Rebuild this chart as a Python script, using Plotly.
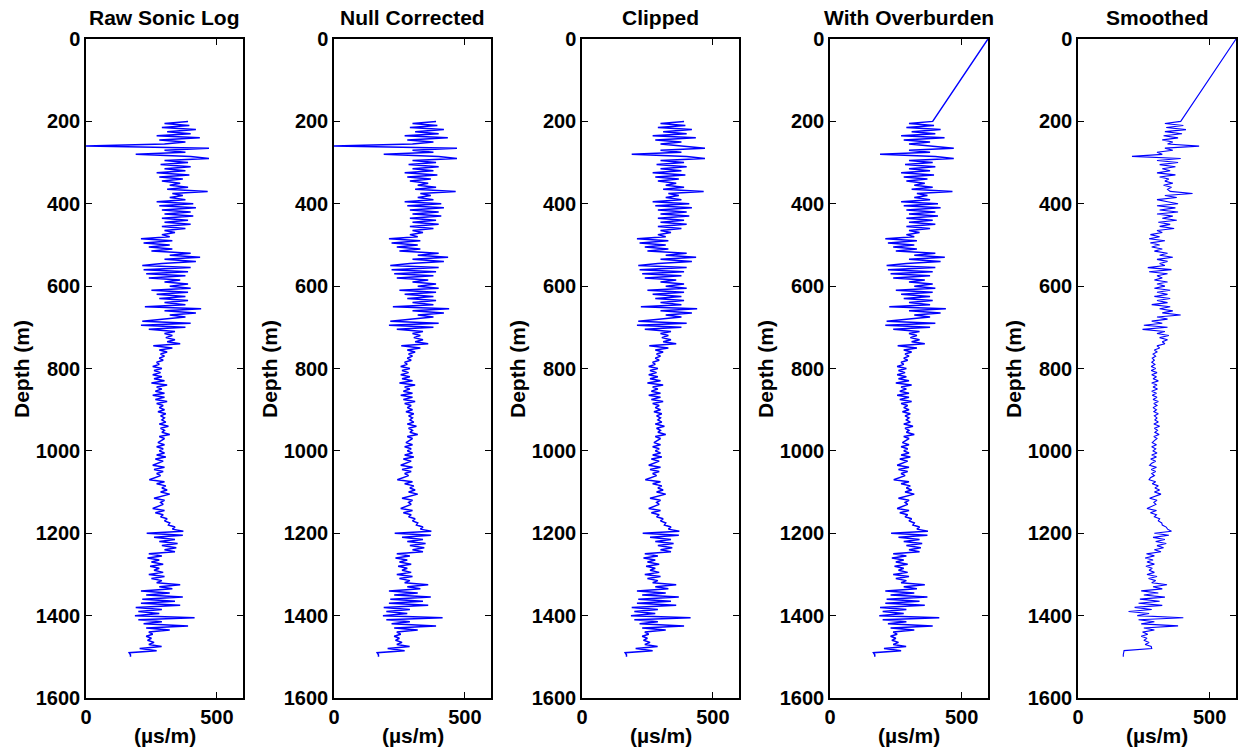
import numpy as np
import plotly.graph_objects as go

# ---------------- data ----------------
panel_titles = ["Raw Sonic Log", "Null Corrected", "Clipped", "With Overburden", "Smoothed"]
x_label = "(µs/m)"
y_label = "Depth (m)"
x_ticks = [0, 500]
y_ticks = [0, 200, 400, 600, 800, 1000, 1200, 1400, 1600]

depth = list(range(200, 1501, 5))  # m

raw_slowness = [
    390, 300, 395, 290, 420, 310, 400, 270, 435, 280, 380, 300, 0, 470, 300, 380, 190, 400, 470, 300,
    390, 285, 400, 300, 380, 270, 395, 280, 370, 290, 360, 320, 390, 310, 465, 330, 370, 320, 380, 270,
    410, 280, 420, 290, 400, 300, 410, 290, 390, 300, 400, 290, 380, 300, 340, 290, 320, 210, 330, 220,
    320, 240, 330, 250, 400, 320, 436, 300, 420, 290, 215, 400, 220, 390, 230, 380, 240, 360, 300, 390,
    320, 400, 250, 390, 270, 380, 280, 390, 300, 380, 225, 440, 300, 420, 320, 380, 300, 215, 400, 210,
    380, 240, 340, 300, 330, 305, 340, 310, 360, 257, 330, 280, 310, 285, 300, 280, 295, 270, 280, 255,
    290, 260, 285, 255, 290, 260, 300, 250, 310, 270, 290, 265, 300, 255, 300, 265, 310, 270, 295, 280,
    300, 275, 305, 285, 300, 290, 305, 280, 315, 285, 300, 290, 320, 280, 300, 285, 275, 300, 270, 295,
    280, 300, 270, 305, 265, 295, 275, 255, 300, 260, 295, 270, 285, 265, 242, 300, 270, 305, 290, 310,
    285, 320, 290, 260, 300, 285, 295, 275, 255, 300, 265, 295, 285, 310, 300, 320, 315, 340, 330, 372,
    232, 370, 260, 340, 280, 350, 290, 345, 300, 340, 240, 290, 235, 280, 250, 295, 245, 280, 260, 295,
    240, 300, 250, 290, 270, 360, 280, 330, 210, 320, 230, 370, 215, 340, 210, 360, 190, 290, 200, 280,
    187, 415, 200, 290, 220, 390, 230, 320, 240, 255, 230, 250, 235, 260, 240, 289, 205, 270, 165, 170,
    170,
]

smoothed_slowness = [
    390, 330, 400, 335, 410, 330, 395, 325, 380, 320, 360, 340, 460, 330, 360, 300, 320, 205, 390, 300,
    380, 310, 370, 320, 350, 300, 370, 310, 345, 330, 360, 325, 355, 340, 350, 435, 330, 375, 300, 340,
    380, 300, 370, 310, 380, 300, 360, 320, 375, 305, 350, 310, 365, 300, 320, 275, 310, 270, 330, 275,
    310, 280, 320, 290, 340, 310, 360, 300, 340, 310, 330, 265, 355, 270, 340, 300, 320, 290, 340, 300,
    330, 290, 350, 300, 340, 290, 350, 300, 340, 280, 350, 310, 360, 320, 390, 300, 340, 280, 320, 250,
    340, 245, 330, 300, 345, 310, 340, 320, 330, 300, 310, 290, 300, 285, 295, 282, 290, 280, 292, 278,
    295, 278, 300, 280, 298, 285, 305, 280, 300, 285, 302, 280, 298, 282, 300, 285, 305, 288, 300, 285,
    298, 288, 305, 290, 300, 292, 305, 288, 310, 290, 302, 292, 308, 288, 300, 290, 282, 298, 280, 295,
    285, 300, 280, 298, 276, 295, 280, 272, 298, 278, 295, 280, 290, 275, 270, 295, 282, 305, 292, 310,
    290, 315, 292, 272, 300, 288, 296, 280, 262, 298, 275, 298, 290, 310, 305, 318, 320, 335, 340, 355,
    290, 345, 285, 330, 295, 335, 300, 325, 290, 315, 260, 290, 255, 285, 262, 290, 258, 282, 270, 290,
    262, 300, 268, 295, 280, 338, 285, 320, 240, 305, 250, 330, 235, 310, 230, 320, 215, 280, 192, 270,
    225, 400, 230, 290, 240, 380, 250, 290, 245, 265, 240, 262, 250, 270, 255, 278, 280, 175, 172, 172,
    172,
]

overburden_depth = [0]
overburden_slowness = [600]
clip_min = 100  # values below this are removed in the clipped log

# ---------------- derived series ----------------
null_corrected = list(raw_slowness)
clip_pairs = [(d, v) for d, v in zip(depth, null_corrected) if v >= clip_min]
clip_depth = [p[0] for p in clip_pairs]
clip_vals = [p[1] for p in clip_pairs]
ob_depth = overburden_depth + clip_depth
ob_vals = overburden_slowness + clip_vals
sm_depth = overburden_depth + depth
sm_vals = overburden_slowness + smoothed_slowness

series = [
    (depth, raw_slowness),
    (depth, null_corrected),
    (clip_depth, clip_vals),
    (ob_depth, ob_vals),
    (sm_depth, sm_vals),
]

# ---------------- layout ----------------
W, H = 1238, 748
panel_px = [(86, 243), (334, 491), (582, 739), (830, 988), (1078, 1236)]
top_px, bottom_px = 39, 698
FONT = "Liberation Sans"

fig = go.Figure()
annotations = []
for i, ((x0, x1), (dd, vv), title) in enumerate(zip(panel_px, series, panel_titles)):
    n = "" if i == 0 else str(i + 1)
    fig.add_trace(go.Scatter(
        x=vv, y=dd, mode="lines",
        line=dict(color="#0000ff", width=1.5 if i < 4 else 1.1),
        xaxis="x" + n, yaxis="y" + n, showlegend=False, hoverinfo="skip",
    ))
    common = dict(
        showline=True, linecolor="black", linewidth=1.5, mirror="ticks",
        ticks="inside", ticklen=6, tickwidth=1.2, tickcolor="black",
        showgrid=False, zeroline=False, automargin=False,
        tickfont=dict(family=FONT, size=20, color="black", weight="bold"),
    )
    fig.update_layout(**{
        "xaxis" + n: dict(
            domain=[x0 / W, x1 / W], anchor="y" + n, range=[0, 600],
            tickvals=x_ticks, ticktext=[str(t) for t in x_ticks], **common),
        "yaxis" + n: dict(
            domain=[1 - bottom_px / H, 1 - top_px / H], anchor="x" + n,
            range=[1600, 0], tickvals=y_ticks, ticktext=[str(t) for t in y_ticks], **common),
    })
    cx = (x0 + x1) / 2 / W
    annotations.append(dict(text="<b>%s</b>" % title, x=cx, y=1 - 18 / H, xref="paper", yref="paper",
                            xanchor="center", yanchor="middle", showarrow=False,
                            font=dict(family=FONT, size=21, color="black")))
    annotations.append(dict(text="<b>%s</b>" % x_label, x=cx, y=1 - 735 / H, xref="paper", yref="paper",
                            xanchor="center", yanchor="middle", showarrow=False,
                            font=dict(family=FONT, size=21, color="black")))
    annotations.append(dict(text="<b>%s</b>" % y_label, x=(x0 - 65) / W, y=1 - 369 / H, xref="paper",
                            yref="paper", xanchor="center", yanchor="middle", textangle=-90,
                            showarrow=False, font=dict(family=FONT, size=21, color="black")))

fig.update_layout(
    width=W, height=H, margin=dict(l=0, r=0, t=0, b=0, pad=0, autoexpand=False),
    paper_bgcolor="white", plot_bgcolor="white",
    annotations=annotations,
)

fig.write_html("out.html")
